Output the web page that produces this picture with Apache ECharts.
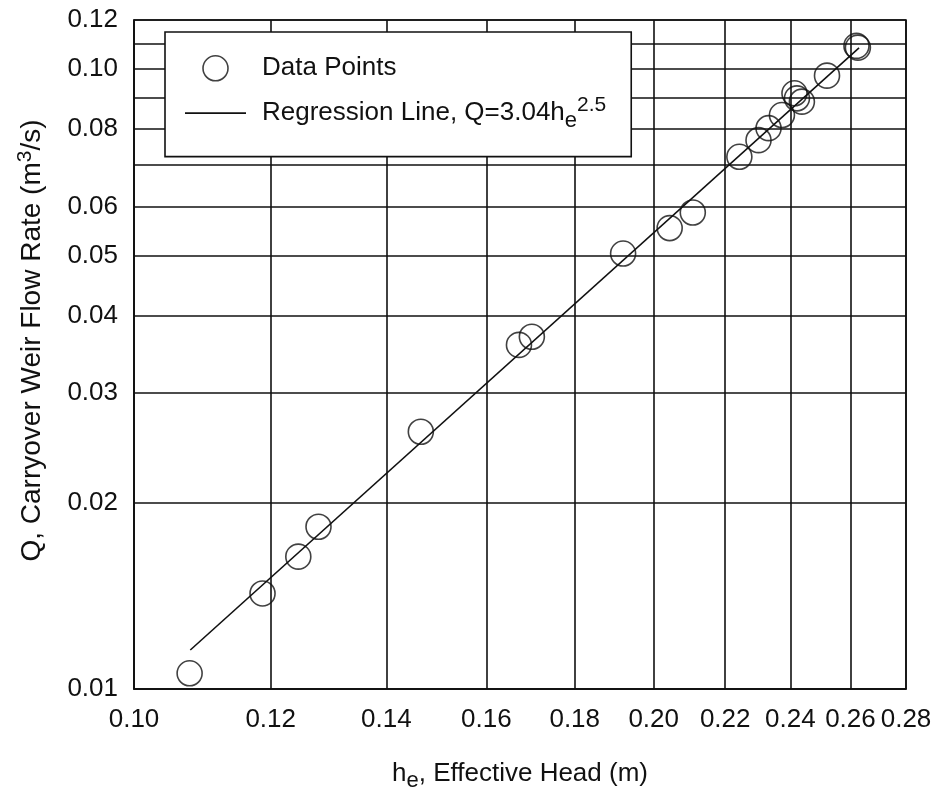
<!DOCTYPE html>
<html>
<head>
<meta charset="utf-8">
<script src="https://cdn.jsdelivr.net/npm/echarts@6/dist/echarts.min.js"></script>
<style>
html,body{margin:0;padding:0;background:#fff;}
#chart{width:933px;height:788px;}
</style>
</head>
<body>
<div id="chart"></div>
<script>
// Effective head h_e (m)
var headValues = [0.1077, 0.1187, 0.1245, 0.1279, 0.1466, 0.1671, 0.1700, 0.1920, 0.2043, 0.2107,
                  0.2242, 0.2300, 0.2331, 0.2373, 0.2413, 0.2421, 0.2437, 0.2520, 0.2621, 0.2626];
// Carryover weir flow rate Q (m^3/s)
var flowValues = [0.0106, 0.01426, 0.01635, 0.01827, 0.0260, 0.0359, 0.0370, 0.0504, 0.0554, 0.0587,
                  0.0722, 0.0768, 0.0803, 0.0843, 0.0914, 0.0897, 0.0886, 0.0976, 0.1090, 0.1083];
// Regression line Q = 3.04 h_e^2.5 (end points as drawn)
var regHead = [0.1078, 0.2630];
var regFlow = [0.01156, 0.1082];

var xTickLabels = [0.10, 0.12, 0.14, 0.16, 0.18, 0.20, 0.22, 0.24, 0.26, 0.28];
var xGridValues = [0.10, 0.12, 0.14, 0.16, 0.18, 0.20, 0.22, 0.24, 0.26, 0.28];
var yTickLabels = [0.01, 0.02, 0.03, 0.04, 0.05, 0.06, 0.08, 0.10, 0.12];
var yGridValues = [0.01, 0.02, 0.03, 0.04, 0.05, 0.06, 0.07, 0.08, 0.09, 0.10, 0.11, 0.12];

var seriesNames = ['Data Points', 'Regression Line'];

var FONT = 'Liberation Sans, Arial, Helvetica, sans-serif';
var INK = '#111';

var richStyles = {
  sub: {fontSize: 22, fontFamily: FONT, color: INK, verticalAlign: 'bottom', padding: [15, 0, 0, 0]},
  sup: {fontSize: 21, fontFamily: FONT, color: INK, verticalAlign: 'top', padding: [0, 0, 16, 0]},
  gap: {width: 11}
};
var richTitleY = {
  sup: {fontSize: 21, fontFamily: FONT, color: INK, verticalAlign: 'top', padding: [0, 0, 13, 0]}
};

var pts = headValues.map(function (h, i) { return [h, flowValues[i]]; });
var reg = regHead.map(function (h, i) { return [h, regFlow[i]]; });

var chart = echarts.init(document.getElementById('chart'), null, {renderer: 'canvas'});
chart.setOption({
  backgroundColor: '#fff',
  animation: false,
  textStyle: {fontFamily: FONT, color: INK},
  grid: {left: 134, right: 27, top: 20, bottom: 99, containLabel: false, outerBoundsMode: 'none',
    show: true, borderColor: INK, borderWidth: 1.6, backgroundColor: 'transparent'},
  legend: {
    orient: 'vertical',
    left: 165, top: 32,
    padding: [23, 25, 25, 20],
    itemGap: 13,
    itemWidth: 61, itemHeight: 25,
    backgroundColor: '#fff',
    borderColor: INK, borderWidth: 1.6,
    data: [
      {name: seriesNames[0], icon: 'circle', itemStyle: {color: 'rgba(0,0,0,0)', borderColor: INK, borderWidth: 1.6}},
      {name: seriesNames[1], icon: 'path://M0,0L61,0L61,1.6L0,1.6Z', itemStyle: {color: INK, borderWidth: 0}}
    ],
    formatter: function (name) {
      if (name === 'Regression Line') return '{gap|}' + name + ', Q=3.04h{sub|e}{sup|2.5}';
      return '{gap|}' + name;
    },
    textStyle: {fontSize: 26, fontFamily: FONT, color: INK, rich: richStyles}
  },
  xAxis: {
    type: 'log', logBase: 10, min: 0.10, max: 0.28,
    name: 'h{sub|e}, Effective Head (m)',
    nameLocation: 'middle', nameGap: 66,
    nameTextStyle: {fontSize: 26, fontFamily: FONT, color: INK, rich: richStyles},
    axisLine: {show: true, onZero: false, lineStyle: {color: INK, width: 1.6}},
    axisTick: {show: false, customValues: xGridValues},
    axisLabel: {customValues: xTickLabels, margin: 18, fontSize: 26, fontFamily: FONT, color: INK,
      formatter: function (v) { return v.toFixed(2); }},
    splitLine: {show: true, lineStyle: {color: INK, width: 1.6}},
    minorSplitLine: {show: false}
  },
  yAxis: {
    type: 'log', logBase: 10, min: 0.01, max: 0.12,
    name: 'Q, Carryover Weir Flow Rate (m{sup|3}/s)',
    nameLocation: 'middle', nameGap: 85, nameRotate: 90,
    nameTextStyle: {fontSize: 28, fontFamily: FONT, color: INK, padding: [0, 0, 0, 28], rich: richTitleY},
    axisLine: {show: true, onZero: false, lineStyle: {color: INK, width: 1.6}},
    axisTick: {show: false, customValues: yGridValues},
    axisLabel: {customValues: yTickLabels, margin: 16, fontSize: 26, fontFamily: FONT, color: INK,
      formatter: function (v) { return v.toFixed(2); }},
    splitLine: {show: true, lineStyle: {color: INK, width: 1.6}},
    minorSplitLine: {show: false}
  },
  series: [
    {
      name: seriesNames[0], type: 'scatter', data: pts,
      symbol: 'circle', symbolSize: 25,
      itemStyle: {color: 'rgba(0,0,0,0)', borderColor: INK, borderWidth: 1.6},
      z: 3
    },
    {
      name: seriesNames[1], type: 'line', data: reg,
      symbol: 'none', showSymbol: false,
      lineStyle: {color: INK, width: 1.6},
      itemStyle: {color: INK},
      z: 2
    }
  ]
});
</script>
</body>
</html>
